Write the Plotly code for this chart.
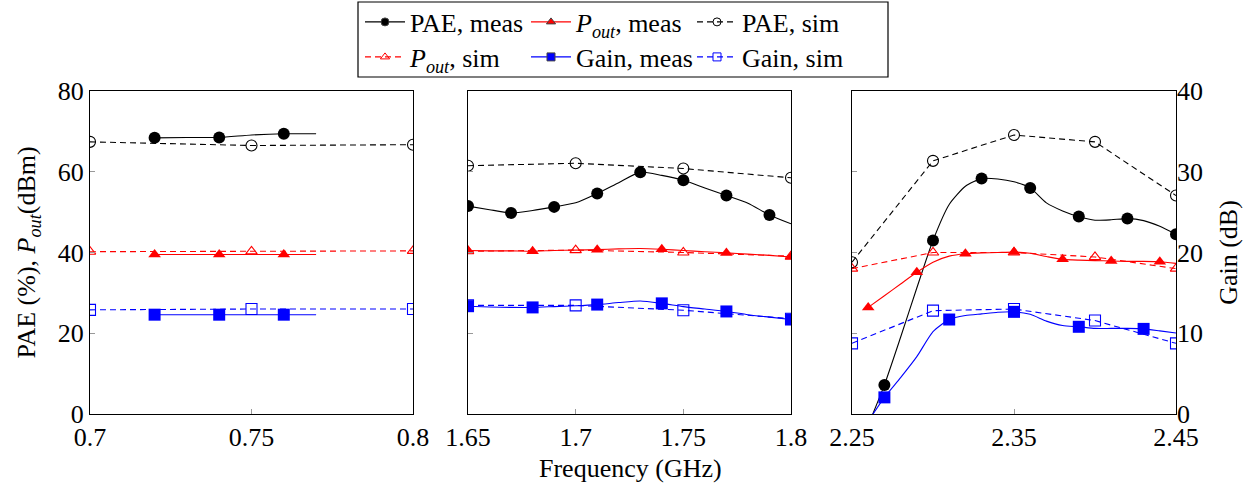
import plotly.graph_objects as go

# ---------------- data ----------------
# Panel 1 (0.7 - 0.8 GHz)
f1_meas = [0.72, 0.73, 0.74, 0.75, 0.76, 0.77]
pae1_meas = [68.4, 68.5, 68.5, 69.1, 69.4, 69.4]
pout1_meas = [39.5, 39.5, 39.5, 39.5, 39.5, 39.5]
gain1_meas = [12.3, 12.3, 12.3, 12.3, 12.3, 12.3]
f1_sim = [0.70, 0.75, 0.80]
pae1_sim = [67.4, 66.5, 66.7]
pout1_sim = [40.2, 40.3, 40.4]
gain1_sim = [12.9, 13.0, 13.0]

# Panel 2 (1.65 - 1.8 GHz)
f2_meas = [1.65, 1.66, 1.67, 1.68, 1.69, 1.70, 1.71, 1.72, 1.73, 1.74, 1.75, 1.76, 1.77, 1.78, 1.79, 1.80]
pae2_meas = [51.5, 50.6, 49.8, 50.4, 51.3, 52.3, 54.6, 57.3, 59.9, 59.1, 57.9, 56.0, 54.1, 52.2, 49.3, 47.1]
pout2_meas = [40.5, 40.4, 40.4, 40.3, 40.5, 40.6, 40.7, 40.9, 41.0, 40.8, 40.5, 40.2, 39.9, 39.6, 39.3, 38.9]
gain2_meas = [13.35, 13.25, 13.2, 13.2, 13.3, 13.4, 13.55, 13.8, 14.0, 13.7, 13.3, 13.0, 12.7, 12.3, 12.0, 11.7]
f2_sim = [1.65, 1.70, 1.75, 1.80]
pae2_sim = [61.5, 62.1, 60.8, 58.5]
pout2_sim = [40.3, 40.6, 40.0, 39.1]
gain2_sim = [13.45, 13.45, 12.85, 11.8]

# Panel 3 (2.25 - 2.45 GHz)
f3_meas = [2.26, 2.27, 2.28, 2.29, 2.30, 2.31, 2.32, 2.33, 2.34, 2.35,
           2.36, 2.37, 2.38, 2.39, 2.40, 2.41, 2.42, 2.43, 2.44, 2.45]
pae3_meas = [-2.8, 7.2, 19.0, 31.2, 43.0, 51.9, 56.4, 58.3, 58.2, 57.5,
             56.0, 52.3, 50.3, 48.9, 48.0, 48.1, 48.4, 47.9, 46.5, 44.5]
pout3_meas = [26.4, 29.3, 32.2, 35.1, 37.6, 39.1, 39.7, 39.9, 40.0, 40.1,
              39.8, 39.0, 38.3, 38.1, 38.0, 37.9, 37.8, 37.8, 37.7, 37.3]
gain3_meas = [-0.9, 2.06, 4.5, 7.1, 10.2, 11.7, 12.2, 12.4, 12.6, 12.65,
              12.35, 11.5, 10.95, 10.8, 10.6, 10.6, 10.6, 10.54, 10.3, 10.04]
f3_sim = [2.25, 2.30, 2.35, 2.40, 2.45]
pae3_sim = [37.6, 62.7, 69.1, 67.4, 54.1]
pout3_sim = [36.0, 40.0, 40.0, 38.9, 36.0]
gain3_sim = [8.75, 12.8, 13.0, 11.57, 8.75]

x_ticks = [[0.7, 0.75, 0.8], [1.65, 1.7, 1.75, 1.8], [2.25, 2.35, 2.45]]
x_ticklabels = [["0.7", "0.75", "0.8"], ["1.65", "1.7", "1.75", "1.8"], ["2.25", "2.35", "2.45"]]
x_ranges = [[0.7, 0.8], [1.65, 1.8], [2.25, 2.45]]
y_ticks = [0, 20, 40, 60, 80]
gain_ticks = [0, 10, 20, 30, 40]

# ---------------- styling ----------------
FONT = "Liberation Serif"
FS = 26
BLACK, RED, BLUE = "#000000", "#ff0000", "#0000ff"
DASH = "6px,4px"

W, H = 1255, 489
px_dom = [(90, 413), (468, 791), (852, 1176)]
y_dom = [1 - 414 / H, 1 - 91 / H]

panels = [
    dict(f_meas=f1_meas, pae_meas=pae1_meas, pout_meas=pout1_meas, gain_meas=gain1_meas,
         f_sim=f1_sim, pae_sim=pae1_sim, pout_sim=pout1_sim, gain_sim=gain1_sim,
         marks=dict(pae=(0, 2), pout=(0, 2), gain=(0, 2))),
    dict(f_meas=f2_meas, pae_meas=pae2_meas, pout_meas=pout2_meas, gain_meas=gain2_meas,
         f_sim=f2_sim, pae_sim=pae2_sim, pout_sim=pout2_sim, gain_sim=gain2_sim,
         marks=dict(pae=(0, 2), pout=(0, 3), gain=(0, 3))),
    dict(f_meas=f3_meas, pae_meas=pae3_meas, pout_meas=pout3_meas, gain_meas=gain3_meas,
         f_sim=f3_sim, pae_sim=pae3_sim, pout_sim=pout3_sim, gain_sim=gain3_sim,
         marks=dict(pae=(1, 3), pout=(0, 3), gain=(1, 4))),
]

# series style: key, colour, filled symbol, open symbol, meas size, sim size, axis ('y' or 'g')
series = [
    ("pae", BLACK, "circle", "circle-open", 12, 11, "y"),
    ("pout", RED, "triangle-up", "triangle-up-open", 11, 10, "y"),
    ("gain", BLUE, "square", "square-open", 12, 11, "g"),
]

fig = go.Figure()

for p_i, p in enumerate(panels):
    k = p_i + 1
    xa = "x" if k == 1 else f"x{k}"
    ya = "y" if k == 1 else f"y{k}"
    ga = f"y{k + 3}"
    for key, col, sym, osym, ms, ss, ax in series:
        yax = ya if ax == "y" else ga
        fx, fy = p["f_meas"], p[key + "_meas"]
        ph, st = p["marks"][key]
        # measured: smooth line through all points
        fig.add_trace(go.Scatter(x=fx, y=fy, xaxis=xa, yaxis=yax, mode="lines",
                                 line=dict(color=col, width=1.1, shape="spline", smoothing=0.6),
                                 showlegend=False, hoverinfo="skip"))
        # measured: marks on every n-th point
        fig.add_trace(go.Scatter(x=fx[ph::st], y=fy[ph::st], xaxis=xa, yaxis=yax, mode="markers",
                                 marker=dict(symbol=sym, color=col, size=ms, line=dict(width=0)),
                                 showlegend=False))
        # simulated
        fig.add_trace(go.Scatter(x=p["f_sim"], y=p[key + "_sim"], xaxis=xa, yaxis=yax,
                                 mode="lines+markers", line=dict(color=col, width=1.1, dash=DASH),
                                 marker=dict(symbol=osym, color=col, size=ss, line=dict(width=1.1)),
                                 showlegend=False))

# legend entries (two rows, like the reference's 3x2 legend)
POUT = "<i>P<sub>out</sub></i>"
legend_items = [
    ("PAE, meas", BLACK, "circle", "solid", "legend"),
    (POUT + ", meas", RED, "triangle-up", "solid", "legend"),
    ("PAE, sim", BLACK, "circle-open", DASH, "legend"),
    (POUT + ", sim", RED, "triangle-up-open", DASH, "legend2"),
    ("Gain, meas", BLUE, "square", "solid", "legend2"),
    ("Gain, sim", BLUE, "square-open", DASH, "legend2"),
]
for name, col, sym, dash, lg in legend_items:
    fig.add_trace(go.Scatter(x=[None], y=[None], name=name, mode="lines+markers",
                             line=dict(color=col, width=1.1, dash=dash),
                             marker=dict(symbol=sym, color=col, size=8, line=dict(width=1)),
                             legend=lg, showlegend=True))

axis_common = dict(showline=True, linecolor="black", linewidth=1, mirror=True,
                   ticks="inside", ticklen=5, tickcolor="#999999", showgrid=False,
                   zeroline=False, automargin=False,
                   tickfont=dict(family=FONT, size=FS, color="black"))

leg_common = dict(orientation="h", xref="paper", yref="paper", xanchor="left", yanchor="middle",
                  bgcolor="rgba(0,0,0,0)", borderwidth=0,
                  font=dict(family=FONT, size=FS, color="black"),
                  entrywidth=111, entrywidthmode="pixels", itemwidth=40, tracegroupgap=0)

layout = dict(
    width=W, height=H, margin=dict(l=0, r=0, t=0, b=0, autoexpand=False),
    plot_bgcolor="white", paper_bgcolor="white",
    font=dict(family=FONT, size=FS, color="black"),
    legend=dict(leg_common, x=360 / W, y=1 - 22 / H),
    legend2=dict(leg_common, x=360 / W, y=1 - 57 / H),
)

for p_i in range(3):
    k = p_i + 1
    xk = "xaxis" if k == 1 else f"xaxis{k}"
    yk = "yaxis" if k == 1 else f"yaxis{k}"
    gk = f"yaxis{k + 3}"
    ya = "y" if k == 1 else f"y{k}"
    xa = "x" if k == 1 else f"x{k}"
    d = [px_dom[p_i][0] / W, px_dom[p_i][1] / W]
    layout[xk] = dict(axis_common, domain=d, anchor=ya, range=x_ranges[p_i],
                      tickvals=x_ticks[p_i], ticktext=x_ticklabels[p_i])
    layout[yk] = dict(axis_common, domain=y_dom, anchor=xa, range=[0, 80],
                      tickvals=y_ticks, showticklabels=(k == 1))
    if k == 1:
        layout[yk]["title"] = dict(text="PAE (%), " + POUT + "(dBm)",
                                   font=dict(family=FONT, size=FS), standoff=14)
    layout[gk] = dict(domain=y_dom, anchor=xa, overlaying=ya, range=[0, 40],
                      side="right", showgrid=False, zeroline=False, automargin=False,
                      showline=False, ticks="", showticklabels=False)
    if k == 3:
        layout[gk].update(tickvals=gain_ticks, showticklabels=True,
                          tickfont=dict(family=FONT, size=FS, color="black"),
                          title=dict(text="Gain (dB)", font=dict(family=FONT, size=FS), standoff=16))

fig.update_layout(**layout)

# legend frame around both rows
fig.add_shape(type="rect", xref="paper", yref="paper",
              x0=358 / W, x1=888 / W, y0=1 - 77 / H, y1=1 - 2 / H,
              line=dict(color="black", width=1.2), fillcolor="rgba(0,0,0,0)")

fig.add_annotation(text="Frequency (GHz)", xref="paper", yref="paper",
                   x=630 / W, y=1 - 468 / H, showarrow=False,
                   font=dict(family=FONT, size=FS), xanchor="center", yanchor="middle")

# place the figure at the page's top-left corner (no default body margin)
fig.write_html("out.html", config={"displayModeBar": False},
               post_script="document.body.style.margin='0px';")
